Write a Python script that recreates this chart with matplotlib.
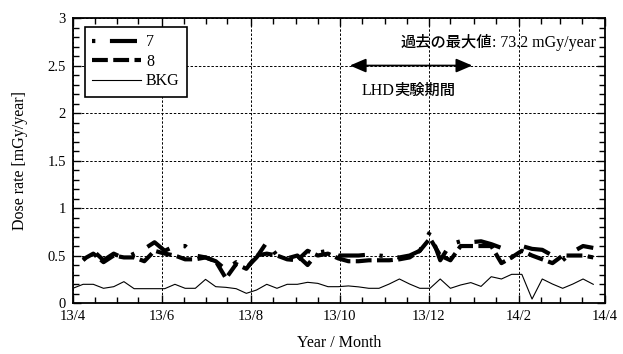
import datetime as dt
import numpy as np
import matplotlib
matplotlib.use("Agg")
import matplotlib.pyplot as plt
import matplotlib.dates as mdates
from matplotlib.ticker import MultipleLocator, FuncFormatter
from matplotlib.offsetbox import TextArea, HPacker, AnnotationBbox

plt.rcParams['font.family'] = ['Liberation Serif', 'Noto Sans CJK JP']
plt.rcParams['axes.unicode_minus'] = False

# Weekly monitoring dates
start = dt.date(2013, 4, 1)
dates = [start + dt.timedelta(weeks=i) for i in range(52)]

nan = np.nan
dose_7 = [nan, 0.45, 0.55, 0.45, 0.52, 0.47, 0.52, 0.57, 0.64, 0.55,
          0.60, 0.60, 0.50, 0.48, 0.44, 0.35, 0.43, 0.37, 0.48, 0.64,
          0.50, 0.47, 0.50, 0.40, 0.53, 0.55, 0.50, 0.50, 0.50, 0.51,
          0.50, 0.49, 0.48, 0.50, 0.55, 0.75, 0.45, 0.62, 0.65, 0.64,
          0.65, 0.62, 0.58, 0.48, 0.60, 0.57, 0.56, 0.50, 0.45, 0.54,
          0.60, 0.58]
dose_8 = [nan, 0.46, 0.52, 0.43, 0.50, 0.48, 0.48, 0.44, 0.55, 0.52,
          0.50, 0.46, 0.46, 0.48, 0.44, 0.26, 0.41, 0.36, 0.50, 0.52,
          0.50, 0.46, 0.45, 0.55, 0.50, 0.52, 0.47, 0.44, 0.44, 0.45,
          0.45, 0.45, 0.46, 0.48, 0.55, 0.68, 0.50, 0.45, 0.60, 0.60,
          0.60, 0.60, 0.42, 0.48, 0.55, 0.50, 0.46, 0.42, 0.50, 0.50,
          0.50, 0.48]
dose_bkg = [0.155, 0.197, 0.197, 0.155, 0.172, 0.225, 0.151, 0.151, 0.151, 0.151,
            0.197, 0.155, 0.155, 0.249, 0.172, 0.165, 0.151, 0.102, 0.137, 0.197,
            0.155, 0.197, 0.197, 0.218, 0.207, 0.172, 0.172, 0.180, 0.170, 0.155,
            0.155, 0.200, 0.253, 0.200, 0.155, 0.155, 0.253, 0.155, 0.190, 0.215,
            0.175, 0.277, 0.253, 0.302, 0.302, 0.042, 0.253, 0.200, 0.155, 0.200,
            0.253, 0.197]

series_labels = ['7', '8', 'BKG']
max_label = '過去の最大値'
max_value = ': 73.2 mGy/year'
period_label = '実験期間'
period_prefix = 'LHD'
period_start = dt.date(2013, 10, 8)
period_end = dt.date(2013, 12, 31)

fig = plt.figure(figsize=(6.23, 3.54), dpi=100)
ax = fig.add_axes([0.117, 0.144, 0.854, 0.805])

lw = 3.0
ax.plot(dates, dose_7, color='black', lw=lw, dashes=(0.8, 3.5, 6.5, 3.5),
        label=series_labels[0])
ax.plot(dates, dose_8, color='black', lw=lw, dashes=(3.8, 1.3),
        label=series_labels[1])
ax.plot(dates, dose_bkg, color='black', lw=0.8, label=series_labels[2])

ax.set_xlim(dt.date(2013, 4, 1), dt.date(2014, 4, 1))
ax.set_ylim(0, 3)

ax.xaxis.set_major_locator(mdates.MonthLocator(bymonth=[2, 4, 6, 8, 10, 12]))
ax.xaxis.set_minor_locator(mdates.MonthLocator(bymonthday=[1, 16]))
ax.xaxis.set_major_formatter(
    FuncFormatter(lambda v, p: f"{mdates.num2date(v).year % 100}/{mdates.num2date(v).month}"))
ax.yaxis.set_major_locator(MultipleLocator(0.5))
ax.yaxis.set_minor_locator(MultipleLocator(0.1))
ax.yaxis.set_major_formatter(FuncFormatter(lambda v, p: f"{v:g}"))

ax.tick_params(which='both', direction='in', top=True, right=True,
               labelsize=10.5, width=1.0, pad=5)
ax.tick_params(which='major', length=6)
ax.tick_params(which='minor', length=4)
for s in ax.spines.values():
    s.set_linewidth(1.3)

ax.grid(True, which='major', color='black', lw=0.7, ls=(0, (2.5, 1.8)))

ax.set_xlabel('Year / Month', fontsize=11.5, labelpad=9)
ax.set_ylabel('Dose rate [mGy/year]', fontsize=11.5, labelpad=14)

leg = ax.legend(loc='upper left', bbox_to_anchor=(0.022, 0.968), fontsize=11.5,
                frameon=True, fancybox=False, edgecolor='black', framealpha=1,
                handlelength=3.1, handletextpad=0.3, labelspacing=0.22,
                borderpad=0.45, borderaxespad=0)
leg.get_frame().set_linewidth(1.2)

# Maximum recorded value, upper right
jp_props = dict(family='Noto Sans CJK JP', weight='medium', size=11)
en_props = dict(family='Liberation Serif', size=11.5)
max_box = HPacker(children=[TextArea(max_label, textprops=jp_props),
                            TextArea(max_value, textprops=en_props)],
                  align='baseline', pad=0, sep=0)
ax.add_artist(AnnotationBbox(max_box, (0.984, 0.915), xycoords='axes fraction',
                             box_alignment=(1, 0.5), frameon=False, pad=0))

# Experiment period arrow and label
ax.annotate('', xy=(period_start, 2.5), xytext=(period_end, 2.5),
            arrowprops=dict(arrowstyle='<|-|>,head_length=0.7,head_width=0.3',
                            color='black', lw=1.3, mutation_scale=14,
                            shrinkA=0, shrinkB=0))
period_box = HPacker(children=[TextArea(period_prefix, textprops=en_props),
                               TextArea(period_label, textprops=jp_props)],
                     align='baseline', pad=0, sep=0)
ax.add_artist(AnnotationBbox(period_box, (dt.date(2013, 11, 17), 2.24),
                             xycoords='data', box_alignment=(0.5, 0.5),
                             frameon=False, pad=0))

fig.savefig('out.png', dpi=100)
